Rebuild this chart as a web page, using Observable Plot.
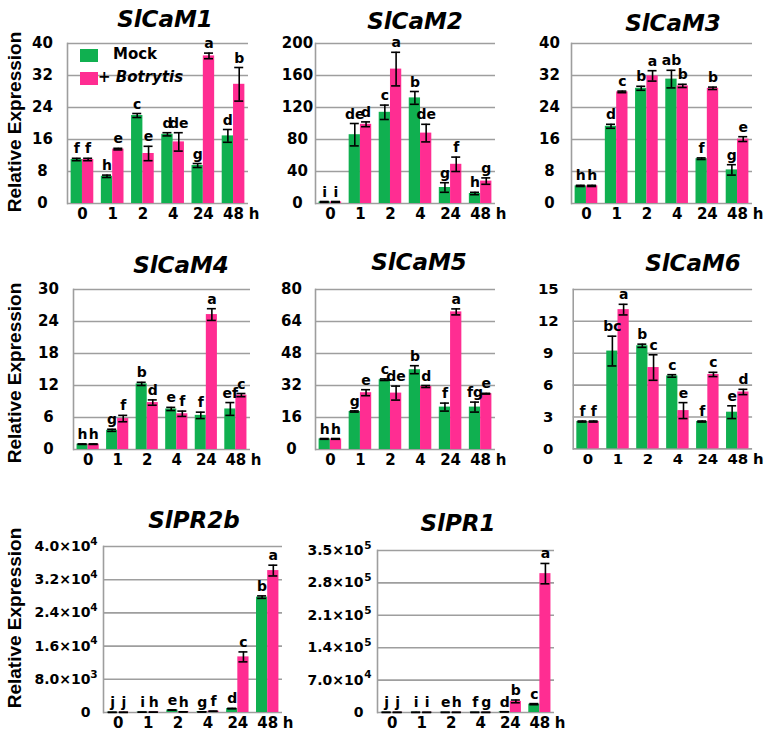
<!DOCTYPE html>
<html>
<head>
<meta charset="utf-8">
<script src="https://cdn.jsdelivr.net/npm/d3@7"></script>
<script src="https://cdn.jsdelivr.net/npm/@observablehq/plot@0.6"></script>
<style>
  body { margin: 0; background: #fff; }
  #fig { position: relative; width: 777px; height: 741px; overflow: hidden; background: #fff; font-family: "DejaVu Sans", sans-serif; }
  .panel { position: absolute; }
  .title { position: absolute; font: italic bold 23px "DejaVu Sans", sans-serif; line-height: 1; transform: translateX(-50%); white-space: nowrap; color: #000; }
  .ylab { position: absolute; font: bold 19px "Liberation Sans", Arial, sans-serif; line-height: 1; transform: translate(-50%, -50%) rotate(-90deg); white-space: nowrap; color: #000; }
  #legend { position: absolute; left: 67px; top: 33px; width: 120px; height: 56px; }
  #legend .sw { position: absolute; width: 18px; height: 13px; }
  #legend .lt { position: absolute; font: bold 15px "DejaVu Sans", sans-serif; line-height: 1; white-space: nowrap; color: #000; }
</style>
</head>
<body>
<div id="fig"></div>
<script>
// ---------- data ----------
const times = ["0", "1", "2", "4", "24", "48"];
const seriesNames = ["Mock", "+ Botrytis"];

const cam1Mock = [11, 6.8, 22, 17.3, 9.5, 16.9];
const cam1MockSE = [0.3, 0.3, 0.5, 0.4, 0.5, 1.6];
const cam1Bot = [11, 13.6, 12.5, 15.4, 36.9, 29.8];
const cam1BotSE = [0.3, 0.2, 1.8, 2.3, 0.7, 4.2];
const cam1MockSig = ["f", "h", "c", "d", "g", "d"];
const cam1BotSig = ["f", "e", "e", "de", "a", "b"];
const cam1Ticks = [0, 8, 16, 24, 32, 40];

const cam2Mock = [2, 86, 114, 132, 20, 12.5];
const cam2MockSE = [0.5, 14, 9, 8, 6, 1.5];
const cam2Bot = [2, 99, 168, 88, 49, 28];
const cam2BotSE = [0.5, 3, 21, 11, 9, 4];
const cam2MockSig = ["i", "de", "c", "b", "g", "h"];
const cam2BotSig = ["i", "d", "a", "de", "f", "g"];
const cam2Ticks = [0, 40, 80, 120, 160, 200];

const cam3Mock = [4.4, 19.3, 28.8, 31.1, 11.2, 8.4];
const cam3MockSE = [0.15, 0.5, 0.5, 2.2, 0.2, 1.3];
const cam3Bot = [4.4, 27.9, 31.9, 29.4, 28.8, 16.1];
const cam3BotSE = [0.15, 0.2, 1.3, 0.4, 0.3, 0.6];
const cam3MockSig = ["h", "d", "b", "ab", "f", "g"];
const cam3BotSig = ["h", "c", "a", "b", "b", "e"];
const cam3Ticks = [0, 8, 16, 24, 32, 40];

const cam4Mock = [1, 3.6, 12.3, 7.6, 6.4, 7.6];
const cam4MockSE = [0.05, 0.2, 0.3, 0.3, 0.6, 1.2];
const cam4Bot = [1, 5.8, 8.8, 6.7, 25.3, 10.2];
const cam4BotSE = [0.05, 0.6, 0.5, 0.5, 1.1, 0.3];
const cam4MockSig = ["h", "g", "b", "e", "f", "ef"];
const cam4BotSig = ["h", "f", "d", "f", "a", "c"];
const cam4Ticks = [0, 6, 12, 18, 24, 30];

const cam5Mock = [5.3, 19, 34.9, 39.9, 21.2, 21.2];
const cam5MockSE = [0.2, 0.3, 0.4, 2, 2, 2.5];
const cam5Bot = [5.3, 28.4, 28.2, 31.5, 68.8, 27.9];
const cam5BotSE = [0.2, 1.5, 3.5, 0.5, 1.5, 0.2];
const cam5MockSig = ["h", "g", "c", "b", "f", "fg"];
const cam5BotSig = ["h", "e", "de", "d", "a", "e"];
const cam5Ticks = [0, 16, 32, 48, 64, 80];

const cam6Mock = [2.57, 9.2, 9.7, 6.86, 2.57, 3.45];
const cam6MockSE = [0.05, 1.4, 0.15, 0.12, 0.05, 0.6];
const cam6Bot = [2.57, 13.1, 7.65, 3.6, 7.0, 5.35];
const cam6BotSE = [0.05, 0.5, 1.2, 0.75, 0.2, 0.25];
const cam6MockSig = ["f", "bc", "b", "c", "f", "e"];
const cam6BotSig = ["f", "a", "c", "e", "c", "d"];
const cam6Ticks = [0, 3, 6, 9, 12, 15];

const pr2bMock = [40, 80, 600, 150, 950, 27800];
const pr2bMockSE = [10, 10, 50, 20, 60, 300];
const pr2bBot = [40, 80, 150, 300, 13400, 34200];
const pr2bBotSE = [10, 10, 20, 30, 1200, 1300];
const pr2bMockSig = ["j", "i", "e", "g", "d", "b"];
const pr2bBotSig = ["j", "h", "h", "f", "c", "a"];
const pr2bTicks = [0, 8000, 16000, 24000, 32000, 40000];
const pr2bTickMantissa = ["0", "8.0\u00d710", "1.6\u00d710", "2.4\u00d710", "3.2\u00d710", "4.0\u00d710"];
const pr2bTickExp = ["", "3", "4", "4", "4", "4"];

const pr1Mock = [300, 300, 300, 300, 1500, 18000];
const pr1MockSE = [50, 50, 50, 50, 200, 1200];
const pr1Bot = [300, 300, 300, 300, 24000, 300000];
const pr1BotSE = [50, 50, 50, 50, 3000, 22000];
const pr1MockSig = ["j", "i", "e", "f", "d", "c"];
const pr1BotSig = ["j", "i", "h", "g", "b", "a"];
const pr1Ticks = [0, 70000, 140000, 210000, 280000, 350000];
const pr1TickMantissa = ["0", "7.0\u00d710", "1.4\u00d710", "2.1\u00d710", "2.8\u00d710", "3.5\u00d710"];
const pr1TickExp = ["", "4", "5", "5", "5", "5"];

const yLabel = "Relative Expression";

// ---------- layout / style ----------
const GREEN = "#10b050", PINK = "#ff2d92", GRID = "#9e9e9e";

const panels = [
  {gene: "SlCaM1", mock: cam1Mock, mockSE: cam1MockSE, bot: cam1Bot, botSE: cam1BotSE, mockSig: cam1MockSig, botSig: cam1BotSig, ticks: cam1Ticks,
   area: [67, 43, 248, 203], title: [165, 8], anchor: "middle", pad: 25, tf: 15},
  {gene: "SlCaM2", mock: cam2Mock, mockSE: cam2MockSE, bot: cam2Bot, botSE: cam2BotSE, mockSig: cam2MockSig, botSig: cam2BotSig, ticks: cam2Ticks,
   area: [315, 43, 495, 203], title: [415, 10], anchor: "middle", pad: 18, tf: 15},
  {gene: "SlCaM3", mock: cam3Mock, mockSE: cam3MockSE, bot: cam3Bot, botSE: cam3BotSE, mockSig: cam3MockSig, botSig: cam3BotSig, ticks: cam3Ticks,
   area: [571, 43, 752, 203], title: [673, 12], anchor: "middle", pad: 22, tf: 15},
  {gene: "SlCaM4", mock: cam4Mock, mockSE: cam4MockSE, bot: cam4Bot, botSE: cam4BotSE, mockSig: cam4MockSig, botSig: cam4BotSig, ticks: cam4Ticks,
   area: [73, 289, 250, 449], title: [181, 254], anchor: "middle", pad: 25, tf: 15},
  {gene: "SlCaM5", mock: cam5Mock, mockSE: cam5MockSE, bot: cam5Bot, botSE: cam5BotSE, mockSig: cam5MockSig, botSig: cam5BotSig, ticks: cam5Ticks,
   area: [315, 289, 495, 449], title: [419, 251], anchor: "middle", pad: 24, tf: 15},
  {gene: "SlCaM6", mock: cam6Mock, mockSE: cam6MockSE, bot: cam6Bot, botSE: cam6BotSE, mockSig: cam6MockSig, botSig: cam6BotSig, ticks: cam6Ticks,
   area: [573, 289, 753, 449], title: [693, 252], anchor: "middle", pad: 25, tf: 15},
  {gene: "SlPR2b", mock: pr2bMock, mockSE: pr2bMockSE, bot: pr2bBot, botSE: pr2bBotSE, mockSig: pr2bMockSig, botSig: pr2bBotSig, ticks: pr2bTicks,
   mant: pr2bTickMantissa, exp: pr2bTickExp,
   area: [103, 546, 282, 712], title: [194, 509], anchor: "end", pad: 13, tf: 14},
  {gene: "SlPR1", mock: pr1Mock, mockSE: pr1MockSE, bot: pr1Bot, botSE: pr1BotSE, mockSig: pr1MockSig, botSig: pr1BotSig, ticks: pr1Ticks,
   mant: pr1TickMantissa, exp: pr1TickExp,
   area: [377, 550, 554, 712], title: [458, 512], anchor: "end", pad: 14, tf: 14}
];

const fig = document.getElementById("fig");

function makePanel(p) {
  const ml = 75, mr = 25, mt = 20, mb = 30;
  const [x0, y0, x1, y1] = p.area;
  const W = x1 - x0 + ml + mr, H = y1 - y0 + mt + mb;
  const pi = 0.25, po = 0.12;
  const step = (x1 - x0) / (times.length - pi + 2 * po);
  const bw = step * (1 - pi);
  const q = bw / 4, cap = 4.5;
  const rows = (vals, se, sig, s) => times.map((t, i) => ({t, v: vals[i], e: se[i], s: sig[i], series: s}));
  const M = rows(p.mock, p.mockSE, p.mockSig, seriesNames[0]);
  const B = rows(p.bot, p.botSE, p.botSig, seriesNames[1]);
  const fmt = p.mant ? (v => p.mant[p.ticks.indexOf(v)]) : (v => String(v));
  const err = (R, off) => [
    Plot.ruleX(R, {x: "t", y1: r => r.v - r.e, y2: r => r.v + r.e, dx: off, stroke: "black", strokeWidth: 1.6}),
    Plot.tickY(R, {x: "t", y: r => r.v + r.e, insetLeft: bw / 2 + off - cap, insetRight: bw / 2 - off - cap, stroke: "black", strokeWidth: 1.6}),
    Plot.tickY(R, {x: "t", y: r => r.v - r.e, insetLeft: bw / 2 + off - cap, insetRight: bw / 2 - off - cap, stroke: "black", strokeWidth: 1.6})
  ];
  const marks = [
    Plot.ruleY(p.ticks, {stroke: GRID, strokeWidth: 1.6}),
    Plot.frame({anchor: "left", stroke: GRID, strokeWidth: 1.6}),
    Plot.barY(M, {x: "t", y: "v", fill: GREEN, insetRight: bw / 2}),
    Plot.barY(B, {x: "t", y: "v", fill: PINK, insetLeft: bw / 2}),
    ...err(M, -q),
    ...err(B, q),
    Plot.text(M, {x: "t", y: r => r.v + r.e, text: "s", dx: -q, dy: -5, lineAnchor: "bottom", fontSize: 14, fontWeight: "bold", fill: "black"}),
    Plot.text(B, {x: "t", y: r => r.v + r.e, text: "s", dx: q, dy: -5, lineAnchor: "bottom", fontSize: 14, fontWeight: "bold", fill: "black"}),
    Plot.axisY(p.ticks, {tickSize: 0, tickPadding: p.pad, textAnchor: p.anchor, tickFormat: fmt, fontSize: p.tf, fontWeight: "bold", label: null}),
    Plot.axisX({tickSize: 0, tickPadding: 5, fontSize: 15, fontWeight: "bold", label: null}),
    Plot.text(["h"], {text: d => d, frameAnchor: "bottom-right", dx: 11, dy: 5, lineAnchor: "top", fontSize: 15, fontWeight: "bold", fill: "black"})
  ];
  if (p.exp) {
    marks.push(Plot.text(p.ticks, {y: d => d, text: (d, i) => p.exp[i], frameAnchor: "left", dx: -6, dy: -5,
      textAnchor: "end", fontSize: 10.5, fontWeight: "bold", fill: "black"}));
  }
  const svg = Plot.plot({
    width: W, height: H,
    marginLeft: ml, marginRight: mr, marginTop: mt, marginBottom: mb,
    style: {background: "transparent", overflow: "visible", color: "black", fontFamily: "'DejaVu Sans', sans-serif"},
    x: {type: "band", domain: times, paddingInner: pi, paddingOuter: po, align: 0.5, round: false},
    y: {domain: [0, p.ticks[p.ticks.length - 1]]},
    marks
  });
  const holder = document.createElement("div");
  holder.className = "panel";
  holder.style.left = (x0 - ml) + "px";
  holder.style.top = (y0 - mt) + "px";
  holder.appendChild(svg);
  fig.appendChild(holder);

  const t = document.createElement("div");
  t.className = "title";
  t.textContent = p.gene;
  t.style.left = p.title[0] + "px";
  t.style.top = p.title[1] + "px";
  fig.appendChild(t);
}

panels.forEach(makePanel);

// y-axis labels
[[14, 122], [14, 373], [14, 618]].forEach(([x, y]) => {
  const d = document.createElement("div");
  d.className = "ylab";
  d.textContent = yLabel;
  d.style.left = x + "px";
  d.style.top = y + "px";
  fig.appendChild(d);
});

// legend
const lg = document.createElement("div");
lg.id = "legend";
lg.innerHTML =
  `<div class="sw" style="left:13px;top:16px;background:${GREEN}"></div>` +
  `<div class="lt" style="left:46px;top:14px">${seriesNames[0]}</div>` +
  `<div class="sw" style="left:13px;top:39px;background:${PINK}"></div>` +
  `<div class="lt" style="left:31px;top:37px">+ <i>${seriesNames[1].replace("+ ", "")}</i></div>`;
fig.appendChild(lg);
</script>
</body>
</html>
